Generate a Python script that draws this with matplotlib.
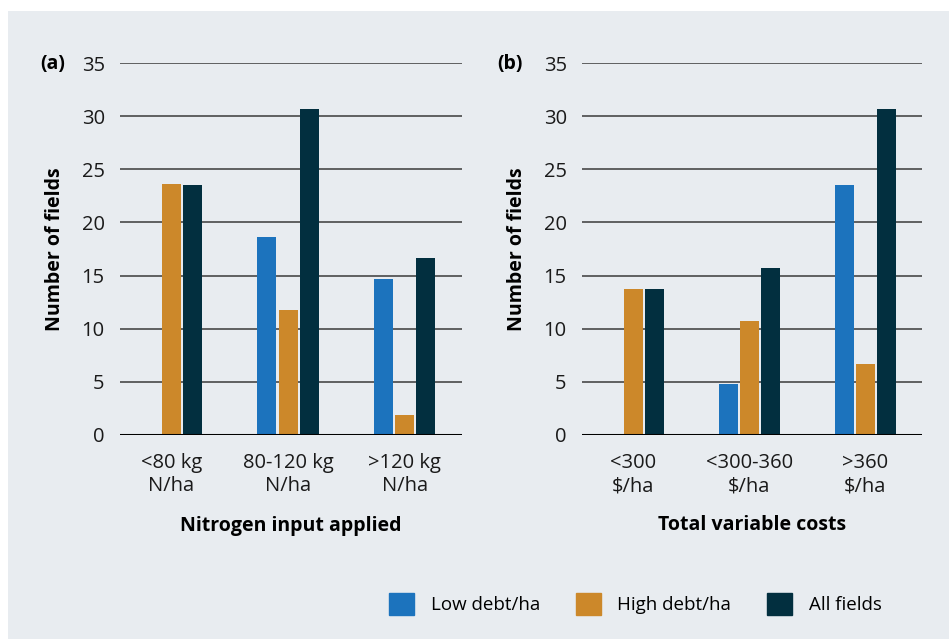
import numpy as np
import matplotlib.pyplot as plt
from matplotlib.patches import Rectangle

plt.rcParams['font.family'] = ['Open Sans', 'DejaVu Sans']

series = ['Low debt/ha', 'High debt/ha', 'All fields']
colors = ['#1c73bd', '#cc882a', '#022f3f']

nitrogen_cats = ['<80 kg\nN/ha', '80-120 kg\nN/ha', '>120 kg\nN/ha']
nitrogen_low = [0, 18.6, 14.7]
nitrogen_high = [23.6, 11.8, 1.9]
nitrogen_all = [23.5, 30.7, 16.7]

cost_cats = ['<300\n$/ha', '<300-360\n$/ha', '>360\n$/ha']
cost_low = [0, 4.8, 23.5]
cost_high = [13.7, 10.7, 6.7]
cost_all = [13.7, 15.7, 30.7]

bg = '#e8ecf0'
W, H = 949, 639

fig = plt.figure(figsize=(W / 100, H / 100), dpi=100)
fig.patch.set_facecolor('white')
fig.patches.append(Rectangle((8 / W, 0), 1 - 8 / W, 1 - 11 / H,
                             transform=fig.transFigure, facecolor=bg,
                             edgecolor='none', zorder=-10))


def panel(left, right, cats, values, xlabel, tag, tag_x):
    ax = fig.add_axes([left / W, 1 - 435 / H, (right - left) / W, 372 / H])
    ax.set_facecolor('none')
    x = np.arange(len(cats))
    width = 0.163
    for i, (vals, c) in enumerate(zip(values, colors)):
        ax.bar(x + (i - 1) * 0.181, vals, width, color=c, zorder=3)
    ax.set_ylim(0, 35)
    ax.set_xlim(-0.44, 2.49)
    ax.set_yticks(range(0, 36, 5))
    ax.yaxis.grid(True, color='#3a3a3a', linewidth=1.1, zorder=0)
    ax.axhline(0, color='black', linewidth=2.2, zorder=4)
    for s in ax.spines.values():
        s.set_visible(False)
    ax.tick_params(axis='y', length=0, pad=11, labelsize=14.5, colors='#1a1a1a')
    ax.tick_params(axis='x', length=0, pad=13, labelsize=14.5, colors='#1a1a1a')
    ax.set_xticks(x)
    ax.set_xticklabels(cats, linespacing=1.2)
    ax.set_ylabel('Number of fields', fontsize=14, fontweight='bold', labelpad=12)
    ax.set_xlabel(xlabel, fontsize=14, fontweight='bold', labelpad=14)
    fig.text(tag_x / W, 1 - 64 / H, tag, ha='center', va='center',
             fontsize=14, fontweight='bold')
    return ax


ax1 = panel(120, 462, nitrogen_cats, [nitrogen_low, nitrogen_high, nitrogen_all],
            'Nitrogen input applied', '(a)', 53)
ax2 = panel(582, 922, cost_cats, [cost_low, cost_high, cost_all],
            'Total variable costs', '(b)', 510)

handles = [Rectangle((0, 0), 1, 1, color=c) for c in colors]
fig.legend(handles, series, loc='center right', bbox_to_anchor=(891 / W, 1 - 604 / H),
           ncol=3, frameon=False, fontsize=13.5, handlelength=1.33, handleheight=1.44,
           handletextpad=0.9, columnspacing=1.9, borderpad=0)

fig.savefig('out.png', dpi=100, facecolor='white')
